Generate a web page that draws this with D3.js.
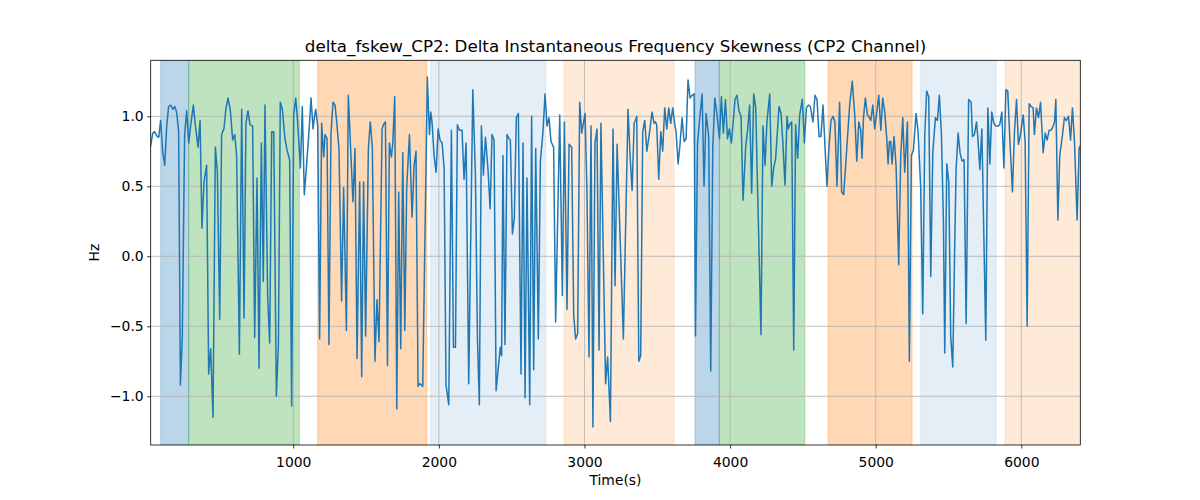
<!DOCTYPE html>
<html><head><meta charset="utf-8">
<script src="https://cdn.jsdelivr.net/npm/d3@7"></script>
<style>body{margin:0;background:#fff} svg text{font-family:"DejaVu Sans",sans-serif;fill:#000}</style>
</head><body><svg id="c" width="1200" height="500"></svg>
<script>
const times = [
21,35,48,62,76,89,103,117,131,144,158,172,186,199,213,225,238,254,268,282,295,314,327,346,360,373,387,405,419,433,449,465,479,495,508,524,538,552,568,584,598,611,630,646,662,675,689,703,721,735,751,765,781,794,
806,824,838,852,866,884,898,911,925,943,957,975,989,1003,1017,1030,1049,1062,1076,1090,1108,1122,1136,1145,1154,1168,1181,1195,1209,1218,1232,1245,1259,1273,1287,1300,1314,1332,1346,1365,1378,1392,1410,1424,1438,1456,1470,1483,1497,1516,1529,1543,1561,1575,1589,
1610,1619,1633,1647,1660,1674,1683,1697,1711,1724,1738,1752,1766,1779,1798,1816,1830,1843,1857,1866,1880,1889,1921,1935,1944,1953,1967,1981,1995,2008,2022,2036,2049,2068,2086,2100,2114,2127,2141,2159,2173,2187,2205,2233,2251,2265,2278,2292,2306,2320,2338,2352,2365,2379,2393,
2422,2431,2440,2454,2468,2482,2491,2505,2518,2532,2546,2564,2578,2592,2605,2624,2637,2651,2665,2683,2697,2715,2729,2743,2756,2770,2788,2802,2830,2848,2862,2880,2894,2912,2926,2939,2953,2967,2981,3004,3017,3031,3045,3058,3072,3086,3100,3113,3145,3159,3178,3196,3210,
3224,3267,3299,3313,3327,3341,3350,3359,3373,3386,3400,3414,3428,3446,3464,3478,3487,3496,3510,3524,3537,3551,3565,3579,3592,3606,3620,3629,3643,3656,3670,3684,3698,3711,3725,3739,3753,3762,3776,3789,3808,3821,3835,3853,3867,3881,3895,3908,3927,3940,3954,3968,3982,3995,4009,
4034,4047,4061,4075,4089,4107,4121,4134,4148,4162,4176,4212,4226,4240,4253,4272,4286,4299,4313,4336,4350,4363,4377,4391,4400,4409,4423,4437,4450,4464,4478,4496,4510,4524,4537,4551,4569,4583,4597,4611,4624,4638,4652,4665,4679,4693,4707,4720,4734,4752,4766,4780,4798,4821,4839,
4856,4870,4884,4897,4906,4916,4929,4943,4957,4966,4980,4993,5007,5021,5035,5048,5062,5076,5085,5094,5103,5112,5126,5140,5158,5172,5186,5199,5218,5231,5245,5259,5277,5291,5309,5323,5337,5350,5364,5378,5392,5410,5424,5437,5451,5465,5474,5488,5502,5515,5529,5543,5552,5566,5579,5593,5607,5621,
5638,5655,5665,5678,5692,5701,5715,5729,5756,5770,5784,5797,5811,5825,5839,5852,5866,5880,5894,5907,5921,5939,5953,5967,5980,5994,6013,6026,6040,6054,6067,6081,6090,6104,6118,6132,6150,6164,6177,6191,6205,6219,6228,6237,6251,6264,6283,6296,6310,6324,6338,6351,6365,6383,6397,6405
];
const values = [
0.79,0.88,0.89,0.86,0.85,0.97,0.75,0.65,0.93,1.07,1.08,1.05,1.07,1.03,0.89,-0.92,-0.58,0.87,1.04,0.81,0.93,1.08,0.94,0.78,0.97,0.20,0.53,0.65,-0.84,-0.66,-1.15,0.78,0.60,-0.45,0.87,0.91,1.06,1.13,1.04,0.83,0.87,0.72,-0.70,1.05,-0.44,0.95,1.04,0.94,0.93,-0.58,0.56,-0.80,0.81,-0.18,
1.08,-0.28,-0.62,0.89,0.89,-1.0,-0.63,1.10,1.05,0.84,0.76,0.69,-1.07,1.01,1.13,0.96,0.63,1.07,0.44,0.63,0.89,1.13,0.91,0.99,1.05,0.93,-0.59,0.95,0.71,0.87,0.84,-0.63,0.87,1.10,1.08,0.94,0.77,-0.32,0.49,-0.53,1.15,0.82,0.39,0.77,-0.73,0.53,-0.86,0.53,-0.57,0.77,0.96,0.78,-0.75,-0.31,-0.61,
0.91,0.94,0.96,-0.78,0.81,0.71,0.80,1.14,-1.09,0.46,-0.66,0.74,-0.53,0.49,0.87,0.28,0.65,0.75,-0.93,-0.91,-0.92,-0.93,1.28,0.87,1.03,0.96,0.72,0.60,0.91,0.83,0.81,0.63,-0.92,-1.06,0.90,-0.65,-0.65,0.94,0.90,0.90,0.55,0.81,-0.91,1.19,0.58,-0.59,-1.06,0.93,0.58,0.85,0.61,0.34,0.87,0.83,-0.96,
-0.65,-0.71,0.72,-0.63,0.87,0.84,0.83,0.16,0.27,0.99,1.02,-0.84,0.81,-1.01,0.56,-1.06,1.0,-0.81,0.77,-0.59,0.68,0.89,1.16,0.93,0.99,0.82,0.78,-0.47,1.01,-0.28,0.96,-0.38,0.80,0.78,-0.42,-0.59,-0.55,1.10,0.88,1.02,0.46,-0.72,0.93,-1.22,0.81,0.91,-0.67,0.95,-0.91,-0.72,-1.18,0.91,-0.21,
0.80,-0.59,1.05,0.72,0.47,0.95,0.97,1.0,-0.75,-0.71,0.89,0.97,0.75,0.88,1.03,0.95,0.96,0.94,0.55,0.89,0.75,1.06,0.91,1.06,0.95,1.06,0.94,0.89,0.66,0.80,0.99,0.82,0.84,1.26,1.13,1.15,1.16,-0.57,0.80,0.96,1.16,0.50,1.02,0.86,-0.82,0.77,1.13,1.03,0.84,1.14,0.88,1.12,0.84,0.91,0.81,
1.12,1.15,1.04,1.0,0.40,0.78,0.91,1.08,0.45,1.16,1.06,-0.56,0.93,0.65,0.96,1.16,0.50,0.63,0.70,1.07,1.02,0.80,0.51,1.0,0.91,0.94,0.96,-0.67,0.94,0.70,1.01,1.12,0.81,1.06,1.08,1.07,0.96,1.15,1.12,0.855,0.855,1.08,0.78,0.50,0.78,0.97,1.0,0.96,0.50,1.10,0.46,0.44,0.72,1.08,1.25,
1.01,0.68,0.96,0.90,0.70,0.99,1.13,1.01,0.99,0.97,1.08,0.91,1.03,1.15,0.90,1.13,1.03,0.84,0.66,0.82,0.82,0.66,0.855,0.64,-0.06,0.72,0.99,0.60,0.96,-0.75,0.72,0.76,1.02,0.89,0.49,-0.41,0.87,1.18,1.14,-0.145,0.74,0.99,0.97,1.15,0.88,0.25,-0.69,0.66,0.53,-0.57,-0.79,0.105,0.62,0.88,0.74,0.68,0.69,-0.48,
1.12,1.10,0.855,0.87,0.96,0.855,0.62,0.91,-0.60,1.06,0.66,1.03,0.95,0.93,0.93,0.94,1.03,0.63,1.19,1.18,0.84,0.46,0.89,1.12,0.80,0.87,1.01,0.82,-0.50,1.09,1.07,1.06,0.87,1.06,0.99,1.10,0.74,0.88,0.83,0.90,0.90,0.93,0.96,1.12,0.26,0.72,0.87,0.99,0.97,1.0,0.83,1.06,0.82,0.26,0.77,0.79
];
const spanStart = [90, 282, 1168, 1944, 2860, 3759, 3926, 4673, 5309, 5888];
const spanEnd   = [282, 1042, 1917, 2734, 3615, 3926, 4513, 5250, 5827, 6420];
const spanKind  = ["blue","green","orange","blueLight","orangeLight","blue","green","orange","blueLight","orangeLight"];
const xTicks = [1000, 2000, 3000, 4000, 5000, 6000];
const yTicks = [-1.0, -0.5, 0.0, 0.5, 1.0];
const titleText = "delta_fskew_CP2: Delta Instantaneous Frequency Skewness (CP2 Channel)";
const xLabel = "Time(s)";
const yLabel = "Hz";

const kindStyle = {
  blue: {c: "#1f77b4", o: 0.3},
  green: {c: "#2ca02c", o: 0.3},
  orange: {c: "#ff7f0e", o: 0.3},
  blueLight: {c: "#1f77b4", o: 0.12},
  orangeLight: {c: "#ff7f0e", o: 0.16}
};

const L = 150.7, R = 1080.3, T = 60.3, B = 445;
const svg = d3.select("#c");
const x = d3.scaleLinear().domain([21, 6405]).range([L, R]);
const y = d3.scaleLinear().domain([-1.348, 1.40]).range([B, T]);

svg.append("defs").append("clipPath").attr("id", "clip")
  .append("rect").attr("x", L).attr("y", T).attr("width", R - L).attr("height", B - T);

const plot = svg.append("g").attr("clip-path", "url(#clip)");
plot.selectAll("rect.span").data(spanStart.map((s, i) => ({s, e: spanEnd[i], k: spanKind[i]})))
  .enter().append("rect")
  .attr("x", d => x(d.s)).attr("width", d => x(d.e) - x(d.s))
  .attr("y", T).attr("height", B - T)
  .attr("fill", d => kindStyle[d.k].c).attr("fill-opacity", d => kindStyle[d.k].o)
  .attr("stroke", d => kindStyle[d.k].c).attr("stroke-opacity", d => kindStyle[d.k].o).attr("stroke-width", 1);

// grid
plot.selectAll("line.gx").data(xTicks).enter().append("line")
  .attr("x1", d => x(d)).attr("x2", d => x(d)).attr("y1", T).attr("y2", B)
  .attr("stroke", "#b0b0b0").attr("stroke-width", 0.8);
plot.selectAll("line.gy").data(yTicks).enter().append("line")
  .attr("y1", d => y(d)).attr("y2", d => y(d)).attr("x1", L).attr("x2", R)
  .attr("stroke", "#b0b0b0").attr("stroke-width", 0.8);

const line = d3.line().x((d, i) => x(times[i])).y(d => y(d));
plot.append("path").datum(values).attr("d", line)
  .attr("fill", "none").attr("stroke", "#1f77b4").attr("stroke-width", 1.5)
  .attr("stroke-linejoin", "round").attr("stroke-linecap", "square");

// axes
const fs = "13.9px";
const xAxis = d3.axisBottom(x).tickValues(xTicks).tickSize(3.5).tickPadding(3.5).tickFormat(d3.format("d"));
const gx = svg.append("g").attr("transform", `translate(0,${B})`).call(xAxis);
gx.select(".domain").remove();
gx.selectAll(".tick line").attr("stroke", "#000").attr("stroke-width", 0.8);
gx.selectAll(".tick text").attr("font-size", fs).attr("font-family", "DejaVu Sans").attr("dy", null).attr("y", 21.5);

const yAxis = d3.axisLeft(y).tickValues(yTicks).tickSize(3.5).tickPadding(3.5)
  .tickFormat(d => d3.format(".1f")(d).replace("-", "\u2212"));
const gy = svg.append("g").attr("transform", `translate(${L},0)`).call(yAxis);
gy.select(".domain").remove();
gy.selectAll(".tick line").attr("stroke", "#000").attr("stroke-width", 0.8);
gy.selectAll(".tick text").attr("font-size", fs).attr("font-family", "DejaVu Sans");

svg.append("rect").attr("x", L).attr("y", T).attr("width", R - L).attr("height", B - T)
  .attr("fill", "none").attr("stroke", "#000").attr("stroke-width", 0.8);

svg.append("text").attr("x", (L + R) / 2).attr("y", 52).attr("text-anchor", "middle")
  .attr("font-size", "16.7px").text(titleText);
svg.append("text").attr("x", (L + R) / 2).attr("y", 485).attr("text-anchor", "middle")
  .attr("font-size", fs).text(xLabel);
svg.append("text").attr("transform", `translate(99,${(T + B) / 2}) rotate(-90)`).attr("text-anchor", "middle")
  .attr("font-size", fs).text(yLabel);
</script></body></html>
